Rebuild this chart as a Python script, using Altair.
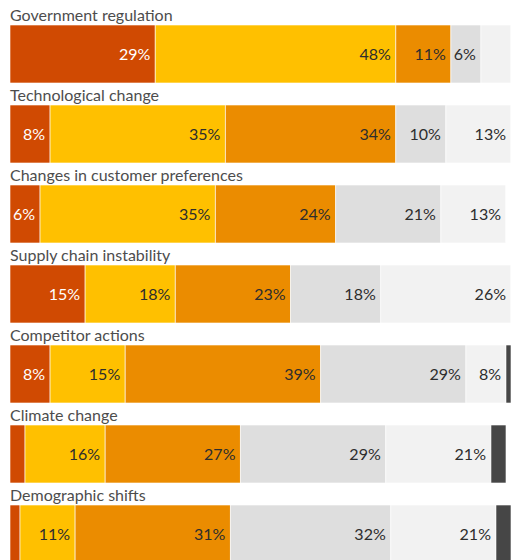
import altair as alt
import pandas as pd

factors = [
    "Government regulation",
    "Technological change",
    "Changes in customer preferences",
    "Supply chain instability",
    "Competitor actions",
    "Climate change",
    "Demographic shifts",
]
cat1 = [29, 8, 6, 15, 8, 3, 2]
cat2 = [48, 35, 35, 18, 15, 16, 11]
cat3 = [11, 34, 24, 23, 39, 27, 31]
cat4 = [6, 10, 21, 18, 29, 29, 32]
cat5 = [6, 13, 13, 26, 8, 21, 21]
cat6 = [0, 0, 0, 0, 1, 3, 3]
categories = ["c1", "c2", "c3", "c4", "c5", "c6"]
colors = ["#D04A02", "#FFC000", "#EB8C00", "#DEDEDE", "#F2F2F2", "#464646"]
text_colors = ["#FFFFFF", "#2D2D2D", "#2D2D2D", "#2D2D2D", "#2D2D2D", "#FFFFFF"]
# segments whose value label is not printed (row index, category index)
hidden = {(0, 4), (5, 0), (6, 0)}

rows = []
series = [cat1, cat2, cat3, cat4, cat5, cat6]
for i, f in enumerate(factors):
    for j, vals in enumerate(series):
        v = vals[i]
        show = v > 0 and j < 5 and (i, j) not in hidden
        rows.append({
            "factor": f,
            "cat": categories[j],
            "idx": j,
            "value": v,
            "label": f"{v}%" if show else "",
            "tcolor": text_colors[j],
        })
df = pd.DataFrame(rows)
lab_df = pd.DataFrame({"factor": factors})

yscale = alt.Scale(domain=factors, paddingInner=0.275, paddingOuter=0.10625, align=1)

base = alt.Chart(df).transform_stack(
    stack="value", groupby=["factor"], as_=["v0", "v1"],
    sort=[alt.SortField("idx", order="ascending")],
)

bars = base.mark_bar(stroke="white", strokeWidth=0.6).encode(
    y=alt.Y("factor:N", scale=yscale, axis=None, sort=factors),
    x=alt.X("v0:Q", scale=alt.Scale(domain=[0, 100], nice=False, zero=True), axis=None),
    x2="v1:Q",
    color=alt.Color("cat:N", scale=alt.Scale(domain=categories, range=colors), legend=None),
)

vals = base.mark_text(align="right", baseline="middle", dx=-5, dy=1, fontSize=16,
                      font="Lato").encode(
    y=alt.Y("factor:N", scale=yscale, axis=None, sort=factors),
    x=alt.X("v1:Q"),
    text="label:N",
    color=alt.Color("tcolor:N", scale=None),
)

titles = alt.Chart(lab_df).mark_text(align="left", baseline="alphabetic", dy=-4, fontSize=16,
                                     font="Lato", color="#4D4D4D").encode(
    y=alt.Y("factor:N", scale=yscale, axis=None, sort=factors, bandPosition=0),
    x=alt.value(0),
    text="factor:N",
)

chart = alt.layer(bars, vals, titles).properties(
    width=501, height=555,
    padding={"left": 2, "top": 0, "right": 0, "bottom": 0},
    autosize=alt.AutoSizeParams(type="none"),
).configure_view(stroke=None)

chart.save("out.html", embed_options={"renderer": "svg", "actions": False})
